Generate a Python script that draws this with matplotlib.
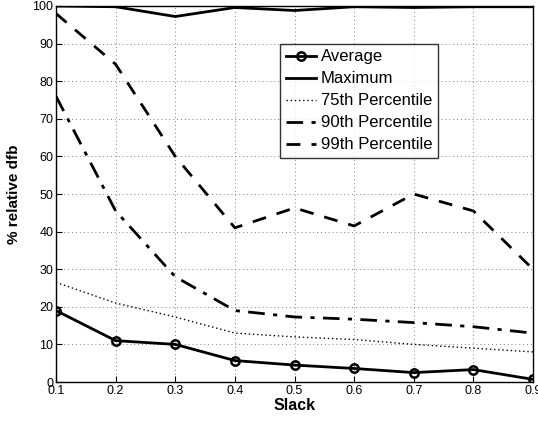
import matplotlib

matplotlib.use("Agg")
import matplotlib.pyplot as plt  # noqa: E402

plt.rcParams["font.family"] = ["Liberation Sans", "DejaVu Sans"]

slack = [0.1, 0.2, 0.3, 0.4, 0.5, 0.6, 0.7, 0.8, 0.9]
average = [19.0, 11.0, 10.0, 5.7, 4.5, 3.6, 2.5, 3.3, 0.7]
maximum = [100.0, 99.8, 97.2, 99.6, 98.8, 99.8, 99.6, 99.8, 99.8]
p75 = [26.5, 21.0, 17.3, 13.0, 12.0, 11.3, 10.0, 9.0, 8.0]
p90 = [76.0, 45.5, 28.0, 19.0, 17.3, 16.7, 15.8, 14.7, 13.0]
p99 = [98.0, 84.5, 60.0, 41.0, 46.3, 41.5, 50.0, 45.5, 30.0]

fig = plt.figure(figsize=(5.38, 4.23), dpi=100)
ax = fig.add_axes([56 / 538, 41 / 423, 477 / 538, 376 / 423])

ax.plot(slack, average, color="black", lw=2, marker="o", ms=6,
        mfc="none", mew=1.8, label="Average")
ax.plot(slack, maximum, color="black", lw=2, label="Maximum")
ax.plot(slack, p75, color="black", lw=1, ls=(0, (1, 2)), label="75th Percentile")
ax.plot(slack, p90, color="black", lw=2, ls=(0, (6, 3, 1.5, 3)), label="90th Percentile")
ax.plot(slack, p99, color="black", lw=2, ls=(0, (5, 4)), label="99th Percentile")

ax.set_xlim(0.1, 0.9)
ax.set_ylim(0, 100)
ax.set_xticks(slack)
ax.set_xticklabels([f"{x:.1f}" for x in slack])
ax.set_yticks(range(0, 101, 10))
ax.tick_params(direction="in", labelsize=9, length=4, pad=2)
ax.grid(True, color="gray", ls=(0, (1, 3)), lw=0.7)
for s in ax.spines.values():
    s.set_linewidth(1)

ax.set_xlabel("Slack", fontsize=11.5, fontweight="bold", labelpad=1)
ax.set_ylabel("% relative dfb", fontsize=11, fontweight="bold", labelpad=8)

leg = ax.legend(loc="upper left", bbox_to_anchor=(0.47, 0.9), fontsize=12,
                frameon=True, fancybox=False, edgecolor="black",
                handlelength=1.8, handletextpad=0.3, labelspacing=0.42,
                borderpad=0.35, borderaxespad=0)
leg.get_frame().set_linewidth(1)

fig.savefig("out.png", dpi=100)
